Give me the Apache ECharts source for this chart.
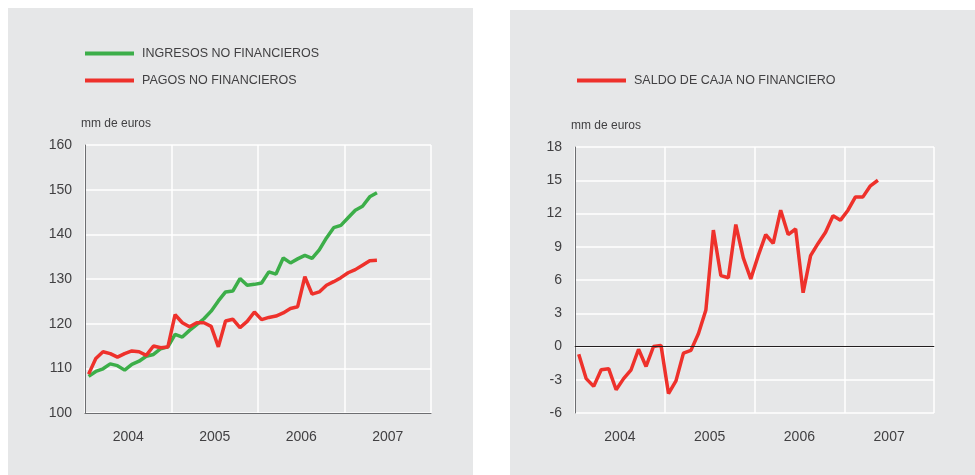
<!DOCTYPE html>
<html>
<head>
<meta charset="utf-8">
<script src="https://cdn.jsdelivr.net/npm/echarts@6/dist/echarts.min.js"></script>
<style>
    body { margin: 0; background: #fff; width: 975px; height: 475px; position: relative; overflow: hidden; }
    .panel { position: absolute; background: #e6e7e8; }
    #left { left: 8px; top: 8px; width: 465px; height: 467px; }
    #right { left: 510px; top: 10px; width: 465px; height: 465px; }
</style>
</head>
<body>
<div id="left" class="panel"></div>
<div id="right" class="panel"></div>
<script>
//--------------------------------
// Data (mm de euros, monthly, Jan 2004 - May 2007)
//--------------------------------
const years = ['2004', '2005', '2006', '2007'];
const months = [];
years.forEach(y => { for (let m = 1; m <= 12; m++) months.push(y + '-' + String(m).padStart(2, '0')); });

const ingresos = [
    108.2, 109.3, 109.9, 111.0, 110.6, 109.6, 110.9, 111.6, 112.7, 113.1, 114.4, 114.8,
    117.6, 117.0, 118.5, 119.8, 121.1, 122.8, 125.1, 127.1, 127.3, 130.1, 128.6, 128.8,
    129.1, 131.6, 131.1, 134.7, 133.6, 134.5, 135.3, 134.6, 136.5, 139.2, 141.5, 142.0,
    143.7, 145.4, 146.3, 148.4, 149.3
];
const pagos = [
    108.7, 112.2, 113.7, 113.3, 112.5, 113.3, 113.9, 113.7, 112.9, 115.0, 114.6, 114.8,
    122.0, 120.2, 119.3, 120.2, 120.2, 119.4, 114.8, 120.6, 121.0, 119.1, 120.5, 122.6,
    120.9, 121.4, 121.7, 122.4, 123.4, 123.8, 130.5, 126.6, 127.1, 128.6, 129.4, 130.3,
    131.4, 132.1, 133.1, 134.1, 134.2
];
const saldo = [
    -0.7, -2.9, -3.6, -2.1, -2.0, -3.9, -2.9, -2.1, -0.25, -1.8, 0.0, 0.1,
    -4.25, -3.1, -0.6, -0.35, 1.15, 3.3, 10.5, 6.4, 6.2, 11.0, 8.0, 6.1,
    8.2, 10.1, 9.3, 12.3, 10.1, 10.6, 4.85, 8.2, 9.3, 10.3, 11.8, 11.4,
    12.3, 13.5, 13.5, 14.5, 15.0
];

//--------------------------------
// Style
//--------------------------------
const GREEN = '#3cae49';
const RED = '#ee312b';
const TXT = '#414042';
const AXIS = '#6d6e71';
const FONT = '"Liberation Sans", Arial, sans-serif';

const xAxes = () => [
    {
        type: 'category',
        data: years,
        boundaryGap: true,
        axisLine: { show: true, lineStyle: { color: AXIS, width: 1 } },
        axisTick: { show: false },
        axisLabel: { color: TXT, fontSize: 14, fontFamily: FONT, margin: 17 },
        splitLine: { show: true, lineStyle: { color: '#fff', width: 1.5 } }
    },
    {
        type: 'category',
        data: months,
        boundaryGap: true,
        show: false
    }
];

const yAxis = (min, max, interval) => ({
    type: 'value',
    min: min,
    max: max,
    interval: interval,
    name: 'mm de euros',
    nameLocation: 'end',
    nameGap: 15,
    nameTextStyle: { color: TXT, fontSize: 12, fontFamily: FONT, align: 'left', padding: [0, 0, 0, -4] },
    axisLine: { show: true, lineStyle: { color: AXIS, width: 1 } },
    axisTick: { show: false },
    axisLabel: { color: TXT, fontSize: 14, fontFamily: FONT, margin: 13 },
    splitLine: { show: true, lineStyle: { color: '#fff', width: 1.5 } }
});

const lineSeries = (name, data, color) => ({
    name: name,
    type: 'line',
    xAxisIndex: 1,
    data: data,
    symbol: 'none',
    lineStyle: { color: color, width: 3.5 },
    itemStyle: { color: color },
    animation: false
});

const legendBase = {
    orient: 'vertical',
    icon: 'rect',
    padding: 0,
    itemWidth: 49,
    itemHeight: 4,
    itemGap: 14,
    textStyle: { color: TXT, fontSize: 12.5, fontFamily: FONT, padding: [0, 0, 0, 3] }
};

//--------------------------------
// Left chart
//--------------------------------
const leftChart = echarts.init(document.getElementById('left'));
leftChart.setOption({
    animation: false,
    legend: Object.assign({}, legendBase, { left: 77, top: 39, data: ['INGRESOS NO FINANCIEROS', 'PAGOS NO FINANCIEROS'] }),
    grid: { left: 77, right: 42, top: 137, bottom: 62 },
    xAxis: xAxes(),
    yAxis: yAxis(100, 160, 10),
    series: [
        lineSeries('INGRESOS NO FINANCIEROS', ingresos, GREEN),
        lineSeries('PAGOS NO FINANCIEROS', pagos, RED)
    ]
});

//--------------------------------
// Right chart
//--------------------------------
const rightChart = echarts.init(document.getElementById('right'));
const saldoSeries = lineSeries('SALDO DE CAJA NO FINANCIERO', saldo, RED);
saldoSeries.markLine = {
    silent: true,
    symbol: 'none',
    label: { show: false },
    lineStyle: { color: '#231f20', width: 1, type: 'solid' },
    data: [{ yAxis: 0 }]
};
rightChart.setOption({
    animation: false,
    legend: Object.assign({}, legendBase, { left: 67, top: 64, data: ['SALDO DE CAJA NO FINANCIERO'] }),
    grid: { left: 65, right: 41, top: 137, bottom: 62 },
    xAxis: xAxes(),
    yAxis: yAxis(-6, 18, 3),
    series: [saldoSeries]
});
</script>
</body>
</html>
